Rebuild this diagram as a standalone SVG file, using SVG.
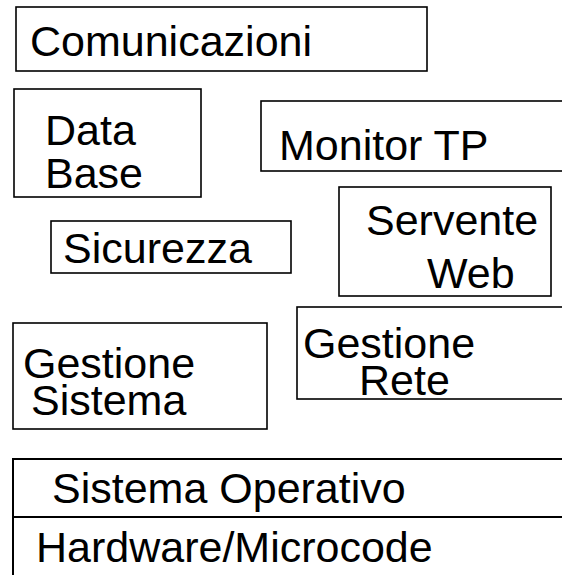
<svg xmlns="http://www.w3.org/2000/svg" width="562" height="575" viewBox="0 0 562 575">
<style>
  .box { fill: #ffffff; stroke: #000000; stroke-width: 1.6; }
  .layer { fill: #ffffff; stroke: #000000; stroke-width: 2; }
  .lbl { font-family: "Liberation Sans", Arial, sans-serif; font-size: 43px; fill: #000000; }
</style>
<rect x="0" y="0" width="562" height="575" fill="#ffffff"/>
<g id="comunicazioni">
  <rect class="box" x="16" y="7" width="411" height="64"/>
  <text class="lbl" x="30" y="56">Comunicazioni</text>
</g>
<g id="database">
  <rect class="box" x="14" y="89" width="187" height="108"/>
  <text class="lbl" x="45" y="145">Data</text>
  <text class="lbl" x="45" y="188">Base</text>
</g>
<g id="monitortp">
  <rect class="box" x="261" y="101" width="320" height="70"/>
  <text class="lbl" x="279" y="160">Monitor TP</text>
</g>
<g id="serventeweb">
  <rect class="box" x="339" y="187" width="212" height="109"/>
  <text class="lbl" x="366" y="235">Servente</text>
  <text class="lbl" x="427" y="288">Web</text>
</g>
<g id="sicurezza">
  <rect class="box" x="51" y="221" width="240" height="52"/>
  <text class="lbl" x="63" y="263">Sicurezza</text>
</g>
<g id="gestionesistema">
  <rect class="box" x="13" y="323" width="254" height="106"/>
  <text class="lbl" x="23" y="378">Gestione</text>
  <text class="lbl" x="31" y="415">Sistema</text>
</g>
<g id="gestionerete">
  <rect class="box" x="297" y="307" width="280" height="92"/>
  <text class="lbl" x="303" y="358">Gestione</text>
  <text class="lbl" x="359" y="395">Rete</text>
</g>
<g id="sistemaoperativo">
  <rect class="layer" x="13" y="459" width="560" height="58"/>
  <text class="lbl" x="52" y="503">Sistema Operativo</text>
</g>
<g id="hardware">
  <rect class="layer" x="13" y="517" width="560" height="70"/>
  <text class="lbl" x="36" y="562">Hardware/Microcode</text>
</g>
</svg>
